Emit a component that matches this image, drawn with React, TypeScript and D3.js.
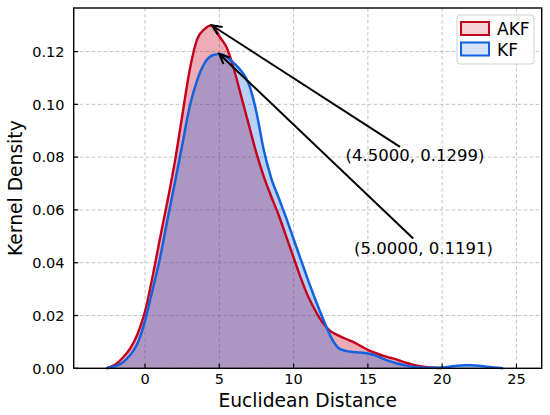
import { area, curveMonotoneX, line, scaleLinear } from 'd3'

// kernel density estimates
const akfX = [-2.6, -2, -1.5, -1, -0.5, 0, 0.5, 1, 1.5, 2, 2.5, 3, 3.5, 4, 4.5, 5, 5.5, 6, 6.5, 7, 7.5, 8, 8.5, 9, 9.5, 10, 10.5, 11, 11.5, 12, 12.5, 13, 13.5, 14, 14.5, 15, 15.5, 16, 16.5, 17, 17.5, 18, 18.5, 19, 19.5, 20]
const akfY = [0, 0.0014, 0.004, 0.0075, 0.013, 0.0215, 0.0345, 0.049, 0.063, 0.078, 0.0955, 0.1128, 0.1245, 0.1285, 0.1299, 0.1258, 0.1215, 0.113, 0.1025, 0.092, 0.0815, 0.0725, 0.065, 0.058, 0.05, 0.042, 0.034, 0.027, 0.0215, 0.017, 0.014, 0.0125, 0.0112, 0.01, 0.0085, 0.007, 0.0058, 0.0048, 0.004, 0.0032, 0.0022, 0.0014, 0.0008, 0.0004, 0.0002, 0.0001]

const kfX = [-2.6, -2, -1.5, -1, -0.5, 0, 0.5, 1, 1.5, 2, 2.5, 3, 3.5, 4, 4.5, 5, 5.5, 6, 6.5, 7, 7.5, 8, 8.5, 9, 9.5, 10, 10.5, 11, 11.5, 12, 12.5, 13, 13.5, 14, 14.5, 15, 15.5, 16, 16.5, 17, 17.5, 18, 18.5, 19, 19.5, 20, 20.5, 21, 21.5, 22, 22.5, 23, 23.5, 24.1]
const kfY = [0, 0.0008, 0.0022, 0.005, 0.0095, 0.018, 0.0295, 0.0415, 0.056, 0.07, 0.0845, 0.099, 0.109, 0.1155, 0.1185, 0.1191, 0.118, 0.1155, 0.1125, 0.1075, 0.097, 0.0825, 0.072, 0.0645, 0.057, 0.049, 0.041, 0.033, 0.0255, 0.0185, 0.012, 0.0078, 0.0066, 0.0062, 0.006, 0.0056, 0.0049, 0.0037, 0.0026, 0.0018, 0.0011, 0.0006, 0.0003, 0.0002, 0.0002, 0.0003, 0.0006, 0.001, 0.0012, 0.0012, 0.001, 0.0006, 0.0003, 0]

const xTicks = [0, 5, 10, 15, 20, 25]
const yTicks = [0, 0.02, 0.04, 0.06, 0.08, 0.1, 0.12]

const seriesNames = ['AKF', 'KF']

// annotated peaks: point, arrow tail and label position (data coords)
const peakPoints = [
  [4.5, 0.1299],
  [5.0, 0.1191],
]
const arrowTails = [
  [17.16, 0.0839],
  [18.05, 0.0492],
]
const labelPoints = [
  [18.17, 0.0785],
  [18.74, 0.0433],
]

const width = 550
const height = 415
const plot = { left: 73.7, right: 541.7, top: 8, bottom: 368.3 }

const font = '"DejaVu Sans", sans-serif'
const red = '#c4001c'
const blue = '#1262e0'

type Pt = [number, number]

function App() {
  const x = scaleLinear().domain([-4.8, 26.7]).range([plot.left, plot.right])
  const y = scaleLinear().domain([0, 0.1365]).range([plot.bottom, plot.top])

  const akf: Pt[] = akfX.map((v, i) => [v, akfY[i]])
  const kf: Pt[] = kfX.map((v, i) => [v, kfY[i]])

  const fillPath = area<Pt>()
    .x((d) => x(d[0]))
    .y0(y(0))
    .y1((d) => y(d[1]))
    .curve(curveMonotoneX)
  const linePath = line<Pt>()
    .x((d) => x(d[0]))
    .y((d) => y(d[1]))
    .curve(curveMonotoneX)

  const arrows = peakPoints.map((p, i) => {
    const hx = x(p[0])
    const hy = y(p[1])
    const tx = x(arrowTails[i][0])
    const ty = y(arrowTails[i][1])
    const len = Math.hypot(tx - hx, ty - hy)
    const ux = (tx - hx) / len
    const uy = (ty - hy) / len
    const hl = 10
    const hw = 4.5
    const bx = hx + ux * hl
    const by = hy + uy * hl
    return {
      shaft: `M${tx},${ty}L${hx + ux * 1.5},${hy + uy * 1.5}`,
      head: `M${bx - uy * hw},${by + ux * hw}L${hx},${hy}L${bx + uy * hw},${by - ux * hw}`,
    }
  })

  return (
    <svg
      width={width}
      height={height}
      style={{ position: 'absolute', left: 0, top: 0, background: '#fff' }}
      fontFamily={font}
    >
      <rect x={0} y={0} width={width} height={height} fill="#fff" />

      {/* grid */}
      {xTicks.map((t) => (
        <line key={`gx${t}`} x1={x(t)} x2={x(t)} y1={plot.top} y2={plot.bottom} stroke="#bdbdbd" strokeWidth={0.9} strokeDasharray="3.5,2.5" />
      ))}
      {yTicks.map((t) => (
        <line key={`gy${t}`} x1={plot.left} x2={plot.right} y1={y(t)} y2={y(t)} stroke="#bdbdbd" strokeWidth={0.9} strokeDasharray="3.5,2.5" />
      ))}

      {/* densities */}
      <path d={fillPath(akf) ?? ''} fill={red} fillOpacity={0.32} />
      <path d={fillPath(kf) ?? ''} fill={blue} fillOpacity={0.29} />
      <path d={linePath(akf) ?? ''} fill="none" stroke={red} strokeWidth={2.4} />
      <path d={linePath(kf) ?? ''} fill="none" stroke={blue} strokeWidth={2.5} />

      {/* annotations */}
      {arrows.map((a, i) => (
        <g key={`ar${i}`} stroke="#000" strokeWidth={2} fill="none">
          <path d={a.shaft} />
          <path d={a.head} />
        </g>
      ))}
      {labelPoints.map((p, i) => (
        <text key={`lb${i}`} x={x(p[0])} y={y(p[1])} textAnchor="middle" fontSize={16.5}>
          {`(${peakPoints[i][0].toFixed(4)}, ${peakPoints[i][1].toFixed(4)})`}
        </text>
      ))}

      {/* ticks */}
      {xTicks.map((t) => (
        <g key={`tx${t}`}>
          <line x1={x(t)} x2={x(t)} y1={plot.bottom} y2={plot.bottom - 4.5} stroke="#000" strokeWidth={1.2} />
          <text x={x(t)} y={384} textAnchor="middle" fontSize={14.5}>{t}</text>
        </g>
      ))}
      {yTicks.map((t) => (
        <g key={`ty${t}`}>
          <line x1={plot.left} x2={plot.left + 4.5} y1={y(t)} y2={y(t)} stroke="#000" strokeWidth={1.2} />
          <text x={64.5} y={y(t)} dy="0.36em" textAnchor="end" fontSize={14.5}>{t.toFixed(2)}</text>
        </g>
      ))}

      <rect x={plot.left} y={plot.top} width={plot.right - plot.left} height={plot.bottom - plot.top} fill="none" stroke="#000" strokeWidth={1.4} />

      <text x={(plot.left + plot.right) / 2} y={407} textAnchor="middle" fontSize={18.7}>Euclidean Distance</text>
      <text transform={`translate(22, ${(plot.top + plot.bottom) / 2}) rotate(-90)`} textAnchor="middle" fontSize={18.7}>Kernel Density</text>

      {/* legend */}
      <g>
        <rect x={457} y={15} width={77} height={49} rx={3} fill="#fff" fillOpacity={0.85} stroke="#d0d0d0" strokeWidth={1} />
        {seriesNames.map((name, i) => {
          const c = i === 0 ? red : blue
          const top = 22 + i * 20.5
          return (
            <g key={name}>
              <rect x={461} y={top} width={28} height={13} fill={c} fillOpacity={0.18} stroke={c} strokeWidth={2} />
              <text x={497} y={top + 13} fontSize={17}>{name}</text>
            </g>
          )
        })}
      </g>
    </svg>
  )
}

export default App
